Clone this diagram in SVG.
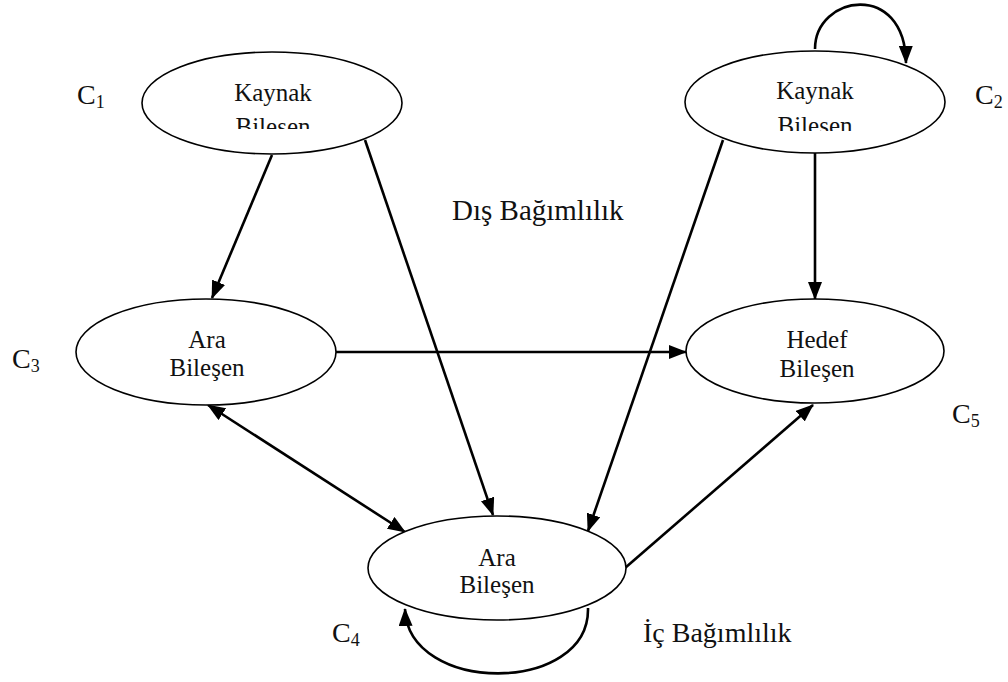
<svg xmlns="http://www.w3.org/2000/svg" width="1008" height="682" viewBox="0 0 1008 682">
  <defs>
    <marker id="arrow" markerUnits="userSpaceOnUse" markerWidth="18" markerHeight="14" viewBox="0 0 18 14" refX="17" refY="7" orient="auto-start-reverse">
      <path d="M0,0 L18,7 L0,14 z" fill="#000"/>
    </marker>
    <clipPath id="clipTopLeft"><rect x="130" y="40" width="290" height="89"/></clipPath>
    <clipPath id="clipTopRight"><rect x="670" y="40" width="290" height="91"/></clipPath>
  </defs>
  <style>
    .node { fill: #fff; stroke: #000; stroke-width: 1.6; }
    .label { font-family: "Liberation Serif", "Times New Roman", serif; font-size: 25px; fill: #111; text-anchor: middle; }
    .note { font-family: "Liberation Serif", "Times New Roman", serif; font-size: 28px; fill: #111; }
    .big { font-size: 29px; }
    .sub { font-size: 18px; }
    .edge { fill: none; stroke: #000; stroke-width: 2.6; }
  </style>

  <rect width="1008" height="682" fill="#fff"/>

  <!-- connectors -->
  <g id="connectors">
    <line class="edge" x1="272" y1="155" x2="212" y2="298" marker-end="url(#arrow)"/>
    <line class="edge" x1="365" y1="140" x2="493" y2="515" marker-end="url(#arrow)"/>
    <line class="edge" x1="723" y1="140" x2="588" y2="531" marker-end="url(#arrow)"/>
    <line class="edge" x1="815" y1="153" x2="815" y2="299" marker-end="url(#arrow)"/>
    <line class="edge" x1="336" y1="352" x2="686" y2="352" marker-end="url(#arrow)"/>
    <line class="edge" x1="208" y1="405" x2="405" y2="532" marker-start="url(#arrow)" marker-end="url(#arrow)"/>
    <line class="edge" x1="625" y1="568" x2="813" y2="405" marker-end="url(#arrow)"/>
    <path class="edge" d="M815,49 C815,-5 905,-20 906,63" marker-end="url(#arrow)"/>
    <path class="edge" d="M588,608 C590,695 408,695 405,609" marker-end="url(#arrow)"/>
  </g>

  <!-- C1: source component -->
  <g id="node-c1">
    <ellipse class="node" cx="272" cy="103" rx="130" ry="51"/>
    <g clip-path="url(#clipTopLeft)">
      <text class="label" x="273" y="101">Kaynak</text>
      <text class="label" x="273" y="135">Bileşen</text>
    </g>
  </g>

  <!-- C2: source component -->
  <g id="node-c2">
    <ellipse class="node" cx="815" cy="102" rx="130" ry="51"/>
    <g clip-path="url(#clipTopRight)">
      <text class="label" x="815" y="99">Kaynak</text>
      <text class="label" x="815" y="134">Bileşen</text>
    </g>
  </g>

  <!-- C3: intermediate component -->
  <g id="node-c3">
    <ellipse class="node" cx="206" cy="352" rx="130" ry="53"/>
    <text class="label" x="207" y="348">Ara</text>
    <text class="label" x="207" y="376">Bileşen</text>
  </g>

  <!-- C5: target component -->
  <g id="node-c5">
    <ellipse class="node" cx="815" cy="351" rx="129" ry="52"/>
    <text class="label" x="817" y="348">Hedef</text>
    <text class="label" x="817" y="377">Bileşen</text>
  </g>

  <!-- C4: intermediate component -->
  <g id="node-c4">
    <ellipse class="node" cx="497" cy="568" rx="129" ry="52"/>
    <text class="label" x="497" y="566">Ara</text>
    <text class="label" x="497" y="593">Bileşen</text>
  </g>

  <!-- component names and dependency labels -->
  <g id="labels">
    <text class="note" x="77" y="104">C<tspan class="sub" dy="4">1</tspan></text>
    <text class="note" x="975" y="104">C<tspan class="sub" dy="4">2</tspan></text>
    <text class="note" x="12" y="368">C<tspan class="sub" dy="4">3</tspan></text>
    <text class="note" x="332" y="642">C<tspan class="sub" dy="4">4</tspan></text>
    <text class="note" x="952" y="423">C<tspan class="sub" dy="4">5</tspan></text>
    <text class="note big" x="452" y="220">Dış Bağımlılık</text>
    <text class="note" x="643" y="642">İç Bağımlılık</text>
  </g>
</svg>
